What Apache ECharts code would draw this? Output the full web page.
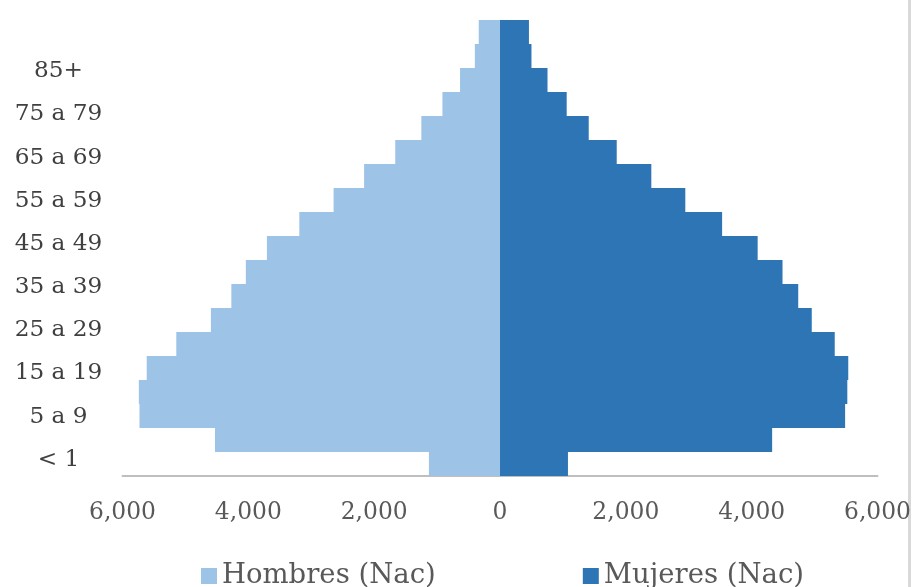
<!DOCTYPE html>
<html>
<head>
<meta charset="utf-8">
<script src="https://cdn.jsdelivr.net/npm/echarts@6/dist/echarts.min.js"></script>
<style>
html,body{margin:0;padding:0;background:#fff;}
#chart{width:914px;height:587px;}
</style>
</head>
<body>
<div id="chart"></div>
<script>
// Age groups, bottom to top
var ageGroups = ['< 1','1 a 4','5 a 9','10 a 14','15 a 19','20 a 24','25 a 29','30 a 34','35 a 39','40 a 44','45 a 49','50 a 54','55 a 59','60 a 64','65 a 69','70 a 74','75 a 79','80 a 84','85+'];
var hombres = [1130, 4530, 5730, 5740, 5615, 5145, 4595, 4270, 4040, 3705, 3190, 2645, 2160, 1665, 1250, 915, 635, 400, 338];
var mujeres = [1080, 4325, 5485, 5520, 5535, 5320, 4955, 4740, 4490, 4095, 3530, 2945, 2405, 1855, 1410, 1060, 755, 500, 460];
var seriesNames = ['Hombres (Nac)', 'Mujeres (Nac)'];
var xMin = -6000, xMax = 6000, xStep = 2000;

var FONT = 'DejaVu Serif';
function fmt(v){ return Math.abs(v).toLocaleString('en-US'); }

var chart = echarts.init(document.getElementById('chart'), null, {renderer:'canvas'});
chart.setOption({
  animation:false,
  backgroundColor:'#ffffff',
  grid:[
    {left:122.5, right:36, top:20, bottom:111},
    {left:122.5, right:36, top:60.5, bottom:116.5}
  ],
  legend:{
    data:seriesNames,
    left:196, top:557,
    itemWidth:16, itemHeight:16, itemGap:147,
    icon:'rect',
    textStyle:{fontFamily:FONT, fontSize:27.5, color:'#595959'}
  },
  xAxis:[
    {
      type:'value', gridIndex:0, min:xMin, max:xMax, interval:xStep,
      axisLine:{show:true, onZero:false, lineStyle:{color:'#BFBFBF', width:2}},
      axisTick:{show:false},
      splitLine:{show:false},
      axisLabel:{formatter:fmt, fontFamily:FONT, fontSize:23.4, color:'#595959', margin:25}
    },
    {type:'value', gridIndex:1, show:false}
  ],
  yAxis:[
    {
      type:'category', gridIndex:0, data:ageGroups,
      axisLine:{show:false}, axisTick:{show:false}, axisLabel:{show:false}, splitLine:{show:false}
    },
    {
      type:'category', gridIndex:1, data:ageGroups,
      axisLine:{show:false}, axisTick:{show:false}, splitLine:{show:false},
      axisLabel:{interval:1, align:'center', margin:64, fontFamily:FONT, fontSize:23.2, color:'#404040'}
    }
  ],
  series:[
    {
      name:seriesNames[0], type:'bar', stack:'pop', xAxisIndex:0, yAxisIndex:0,
      barCategoryGap:0, barGap:'0%',
      itemStyle:{color:'#9DC3E6'},
      data:hombres.map(function(v){return -v;})
    },
    {
      name:seriesNames[1], type:'bar', stack:'pop', xAxisIndex:0, yAxisIndex:0,
      barCategoryGap:0, barGap:'0%',
      itemStyle:{color:'#2E75B6'},
      data:mujeres
    }
  ],
  graphic:[
    {type:'rect', shape:{x:908, y:0, width:3, height:587}, style:{fill:'#D9D9D9'}, silent:true}
  ]
});
</script>
</body>
</html>
